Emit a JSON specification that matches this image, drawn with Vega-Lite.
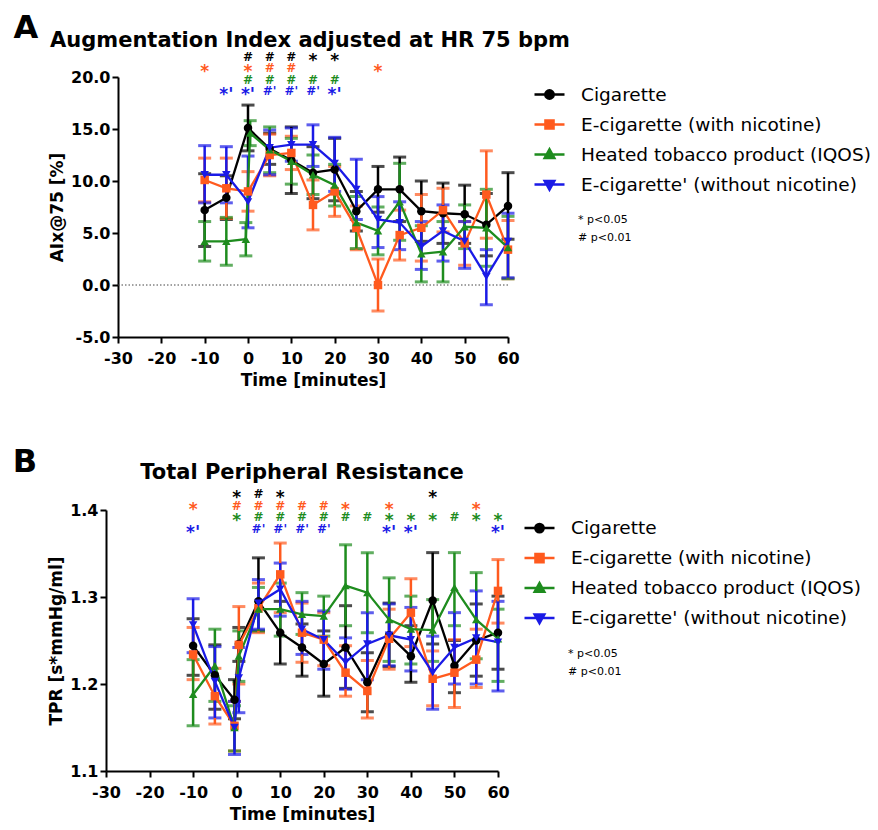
{
  "$schema": "https://vega.github.io/schema/vega-lite/v6.json",
  "background": "white",
  "padding": {"left": 12, "top": 12, "right": 4, "bottom": 2},
  "datasets": {
    "A": [
      {"series": "Cigarette", "time": -10, "mean": 7.2, "lo": 3.7, "hi": 10.7},
      {"series": "Cigarette", "time": -5, "mean": 8.4, "lo": 6.3, "hi": 10.5},
      {"series": "Cigarette", "time": 0, "mean": 15.1, "lo": 12.9, "hi": 17.3},
      {"series": "Cigarette", "time": 5, "mean": 13.1, "lo": 11.6, "hi": 14.6},
      {"series": "Cigarette", "time": 10, "mean": 12.0, "lo": 8.8, "hi": 15.2},
      {"series": "Cigarette", "time": 15, "mean": 10.8, "lo": 8.3, "hi": 13.3},
      {"series": "Cigarette", "time": 20, "mean": 11.1, "lo": 8.1, "hi": 14.1},
      {"series": "Cigarette", "time": 25, "mean": 7.1, "lo": 5.2, "hi": 9.0},
      {"series": "Cigarette", "time": 30, "mean": 9.2, "lo": 7.0, "hi": 11.4},
      {"series": "Cigarette", "time": 35, "mean": 9.2, "lo": 6.1, "hi": 12.3},
      {"series": "Cigarette", "time": 40, "mean": 7.1, "lo": 4.2, "hi": 10.0},
      {"series": "Cigarette", "time": 45, "mean": 6.9, "lo": 4.0, "hi": 9.8},
      {"series": "Cigarette", "time": 50, "mean": 6.8, "lo": 4.0, "hi": 9.6},
      {"series": "Cigarette", "time": 55, "mean": 5.8, "lo": 2.8, "hi": 8.8},
      {"series": "Cigarette", "time": 60, "mean": 7.6, "lo": 4.4, "hi": 10.8},
      {"series": "E-cigarette (with nicotine)", "time": -10, "mean": 10.1, "lo": 8.0, "hi": 12.2},
      {"series": "E-cigarette (with nicotine)", "time": -5, "mean": 9.3, "lo": 6.4, "hi": 12.2},
      {"series": "E-cigarette (with nicotine)", "time": 0, "mean": 9.0, "lo": 7.1, "hi": 10.9},
      {"series": "E-cigarette (with nicotine)", "time": 5, "mean": 12.5, "lo": 10.5, "hi": 14.5},
      {"series": "E-cigarette (with nicotine)", "time": 10, "mean": 12.7, "lo": 11.1, "hi": 14.3},
      {"series": "E-cigarette (with nicotine)", "time": 15, "mean": 7.7, "lo": 5.3, "hi": 10.1},
      {"series": "E-cigarette (with nicotine)", "time": 20, "mean": 9.0, "lo": 6.6, "hi": 11.4},
      {"series": "E-cigarette (with nicotine)", "time": 25, "mean": 5.5, "lo": 3.4, "hi": 7.6},
      {"series": "E-cigarette (with nicotine)", "time": 30, "mean": 0.0, "lo": -2.5, "hi": 2.5},
      {"series": "E-cigarette (with nicotine)", "time": 35, "mean": 4.8, "lo": 2.4, "hi": 7.2},
      {"series": "E-cigarette (with nicotine)", "time": 40, "mean": 5.5, "lo": 2.3, "hi": 8.7},
      {"series": "E-cigarette (with nicotine)", "time": 45, "mean": 7.2, "lo": 5.1, "hi": 9.3},
      {"series": "E-cigarette (with nicotine)", "time": 50, "mean": 4.0, "lo": 1.9, "hi": 6.1},
      {"series": "E-cigarette (with nicotine)", "time": 55, "mean": 8.7, "lo": 4.5, "hi": 12.9},
      {"series": "E-cigarette (with nicotine)", "time": 60, "mean": 3.4, "lo": 0.6, "hi": 6.2},
      {"series": "Heated tobacco product (IQOS)", "time": -10, "mean": 4.2, "lo": 2.3, "hi": 6.1},
      {"series": "Heated tobacco product (IQOS)", "time": -5, "mean": 4.2, "lo": 1.9, "hi": 6.5},
      {"series": "Heated tobacco product (IQOS)", "time": -0.5, "mean": 4.4, "lo": 2.8, "hi": 6.0},
      {"series": "Heated tobacco product (IQOS)", "time": 0.5, "mean": 14.6, "lo": 13.4, "hi": 15.8},
      {"series": "Heated tobacco product (IQOS)", "time": 5, "mean": 13.0, "lo": 10.8, "hi": 15.2},
      {"series": "Heated tobacco product (IQOS)", "time": 10, "mean": 11.9, "lo": 9.7, "hi": 14.1},
      {"series": "Heated tobacco product (IQOS)", "time": 15, "mean": 10.6, "lo": 8.7, "hi": 12.5},
      {"series": "Heated tobacco product (IQOS)", "time": 20, "mean": 9.6, "lo": 7.6, "hi": 11.6},
      {"series": "Heated tobacco product (IQOS)", "time": 25, "mean": 6.0, "lo": 3.5, "hi": 8.5},
      {"series": "Heated tobacco product (IQOS)", "time": 30, "mean": 5.2, "lo": 2.9, "hi": 7.5},
      {"series": "Heated tobacco product (IQOS)", "time": 35, "mean": 8.0, "lo": 4.3, "hi": 11.7},
      {"series": "Heated tobacco product (IQOS)", "time": 40, "mean": 3.0, "lo": 0.3, "hi": 5.7},
      {"series": "Heated tobacco product (IQOS)", "time": 45, "mean": 3.2, "lo": 0.3, "hi": 6.1},
      {"series": "Heated tobacco product (IQOS)", "time": 50, "mean": 5.6, "lo": 3.5, "hi": 7.7},
      {"series": "Heated tobacco product (IQOS)", "time": 55, "mean": 5.5, "lo": 1.8, "hi": 9.2},
      {"series": "Heated tobacco product (IQOS)", "time": 60, "mean": 3.6, "lo": 0.6, "hi": 6.6},
      {"series": "E-cigarette' (without nicotine)", "time": -10, "mean": 10.6, "lo": 7.9, "hi": 13.4},
      {"series": "E-cigarette' (without nicotine)", "time": -5, "mean": 10.6, "lo": 7.9, "hi": 13.3},
      {"series": "E-cigarette' (without nicotine)", "time": 0, "mean": 8.0, "lo": 5.5, "hi": 12.4},
      {"series": "E-cigarette' (without nicotine)", "time": 5, "mean": 13.2, "lo": 10.6, "hi": 14.9},
      {"series": "E-cigarette' (without nicotine)", "time": 10, "mean": 13.5, "lo": 11.9, "hi": 15.1},
      {"series": "E-cigarette' (without nicotine)", "time": 15, "mean": 13.5, "lo": 11.4, "hi": 15.4},
      {"series": "E-cigarette' (without nicotine)", "time": 20, "mean": 11.7, "lo": 9.0, "hi": 14.2},
      {"series": "E-cigarette' (without nicotine)", "time": 25, "mean": 9.2, "lo": 6.3, "hi": 12.1},
      {"series": "E-cigarette' (without nicotine)", "time": 30, "mean": 6.3, "lo": 3.6, "hi": 8.5},
      {"series": "E-cigarette' (without nicotine)", "time": 35, "mean": 6.0, "lo": 3.4, "hi": 8.0},
      {"series": "E-cigarette' (without nicotine)", "time": 40, "mean": 3.7, "lo": 1.5, "hi": 6.1},
      {"series": "E-cigarette' (without nicotine)", "time": 45, "mean": 5.2, "lo": 2.3, "hi": 7.7},
      {"series": "E-cigarette' (without nicotine)", "time": 50, "mean": 4.2, "lo": 1.6, "hi": 6.1},
      {"series": "E-cigarette' (without nicotine)", "time": 55, "mean": 0.8, "lo": -1.9, "hi": 3.4},
      {"series": "E-cigarette' (without nicotine)", "time": 60, "mean": 4.2, "lo": 0.7, "hi": 6.9}
    ],
    "B": [
      {"series": "Cigarette", "time": -10, "mean": 1.244, "lo": 1.210, "hi": 1.275},
      {"series": "Cigarette", "time": -5, "mean": 1.210, "lo": 1.171, "hi": 1.245},
      {"series": "Cigarette", "time": -0.5, "mean": 1.182, "lo": 1.160, "hi": 1.205},
      {"series": "Cigarette", "time": 0.5, "mean": 1.246, "lo": 1.226, "hi": 1.265},
      {"series": "Cigarette", "time": 5, "mean": 1.295, "lo": 1.261, "hi": 1.345},
      {"series": "Cigarette", "time": 10, "mean": 1.259, "lo": 1.223, "hi": 1.295},
      {"series": "Cigarette", "time": 15, "mean": 1.242, "lo": 1.209, "hi": 1.269},
      {"series": "Cigarette", "time": 20, "mean": 1.223, "lo": 1.186, "hi": 1.261},
      {"series": "Cigarette", "time": 25, "mean": 1.242, "lo": 1.195, "hi": 1.290},
      {"series": "Cigarette", "time": 30, "mean": 1.202, "lo": 1.168, "hi": 1.236},
      {"series": "Cigarette", "time": 35, "mean": 1.256, "lo": 1.220, "hi": 1.293},
      {"series": "Cigarette", "time": 40, "mean": 1.232, "lo": 1.202, "hi": 1.267},
      {"series": "Cigarette", "time": 45, "mean": 1.296, "lo": 1.246, "hi": 1.351},
      {"series": "Cigarette", "time": 50, "mean": 1.221, "lo": 1.190, "hi": 1.250},
      {"series": "Cigarette", "time": 55, "mean": 1.250, "lo": 1.209, "hi": 1.292},
      {"series": "Cigarette", "time": 60, "mean": 1.259, "lo": 1.217, "hi": 1.301},
      {"series": "E-cigarette (with nicotine)", "time": -10, "mean": 1.234, "lo": 1.205, "hi": 1.265},
      {"series": "E-cigarette (with nicotine)", "time": -5, "mean": 1.186, "lo": 1.154, "hi": 1.218},
      {"series": "E-cigarette (with nicotine)", "time": -0.5, "mean": 1.152, "lo": 1.123, "hi": 1.180},
      {"series": "E-cigarette (with nicotine)", "time": 0.5, "mean": 1.245, "lo": 1.200, "hi": 1.289},
      {"series": "E-cigarette (with nicotine)", "time": 5, "mean": 1.287, "lo": 1.259, "hi": 1.316},
      {"series": "E-cigarette (with nicotine)", "time": 10, "mean": 1.326, "lo": 1.282, "hi": 1.362},
      {"series": "E-cigarette (with nicotine)", "time": 15, "mean": 1.259, "lo": 1.225, "hi": 1.293},
      {"series": "E-cigarette (with nicotine)", "time": 20, "mean": 1.251, "lo": 1.221, "hi": 1.282},
      {"series": "E-cigarette (with nicotine)", "time": 25, "mean": 1.213, "lo": 1.186, "hi": 1.244},
      {"series": "E-cigarette (with nicotine)", "time": 30, "mean": 1.192, "lo": 1.161, "hi": 1.227},
      {"series": "E-cigarette (with nicotine)", "time": 35, "mean": 1.252, "lo": 1.217, "hi": 1.286},
      {"series": "E-cigarette (with nicotine)", "time": 40, "mean": 1.282, "lo": 1.243, "hi": 1.321},
      {"series": "E-cigarette (with nicotine)", "time": 45, "mean": 1.206, "lo": 1.175, "hi": 1.238},
      {"series": "E-cigarette (with nicotine)", "time": 50, "mean": 1.213, "lo": 1.173, "hi": 1.251},
      {"series": "E-cigarette (with nicotine)", "time": 55, "mean": 1.228, "lo": 1.196, "hi": 1.263},
      {"series": "E-cigarette (with nicotine)", "time": 60, "mean": 1.307, "lo": 1.270, "hi": 1.343},
      {"series": "Heated tobacco product (IQOS)", "time": -10, "mean": 1.188, "lo": 1.152, "hi": 1.228},
      {"series": "Heated tobacco product (IQOS)", "time": -5, "mean": 1.221, "lo": 1.180, "hi": 1.263},
      {"series": "Heated tobacco product (IQOS)", "time": -0.5, "mean": 1.150, "lo": 1.123, "hi": 1.175},
      {"series": "Heated tobacco product (IQOS)", "time": 0.5, "mean": 1.232, "lo": 1.203, "hi": 1.261},
      {"series": "Heated tobacco product (IQOS)", "time": 5, "mean": 1.286, "lo": 1.261, "hi": 1.311},
      {"series": "Heated tobacco product (IQOS)", "time": 10, "mean": 1.286, "lo": 1.255, "hi": 1.316},
      {"series": "Heated tobacco product (IQOS)", "time": 15, "mean": 1.280, "lo": 1.257, "hi": 1.305},
      {"series": "Heated tobacco product (IQOS)", "time": 20, "mean": 1.278, "lo": 1.255, "hi": 1.301},
      {"series": "Heated tobacco product (IQOS)", "time": 25, "mean": 1.313, "lo": 1.267, "hi": 1.360},
      {"series": "Heated tobacco product (IQOS)", "time": 30, "mean": 1.305, "lo": 1.259, "hi": 1.351},
      {"series": "Heated tobacco product (IQOS)", "time": 35, "mean": 1.274, "lo": 1.226, "hi": 1.322},
      {"series": "Heated tobacco product (IQOS)", "time": 40, "mean": 1.263, "lo": 1.223, "hi": 1.301},
      {"series": "Heated tobacco product (IQOS)", "time": 45, "mean": 1.262, "lo": 1.226, "hi": 1.297},
      {"series": "Heated tobacco product (IQOS)", "time": 50, "mean": 1.311, "lo": 1.267, "hi": 1.351},
      {"series": "Heated tobacco product (IQOS)", "time": 55, "mean": 1.274, "lo": 1.229, "hi": 1.328},
      {"series": "Heated tobacco product (IQOS)", "time": 60, "mean": 1.252, "lo": 1.203, "hi": 1.286},
      {"series": "E-cigarette' (without nicotine)", "time": -10, "mean": 1.268, "lo": 1.236, "hi": 1.298},
      {"series": "E-cigarette' (without nicotine)", "time": -5, "mean": 1.203, "lo": 1.161, "hi": 1.243},
      {"series": "E-cigarette' (without nicotine)", "time": -0.5, "mean": 1.150, "lo": 1.119, "hi": 1.180},
      {"series": "E-cigarette' (without nicotine)", "time": 0.5, "mean": 1.207, "lo": 1.167, "hi": 1.242},
      {"series": "E-cigarette' (without nicotine)", "time": 5, "mean": 1.293, "lo": 1.263, "hi": 1.320},
      {"series": "E-cigarette' (without nicotine)", "time": 10, "mean": 1.309, "lo": 1.278, "hi": 1.339},
      {"series": "E-cigarette' (without nicotine)", "time": 15, "mean": 1.263, "lo": 1.234, "hi": 1.295},
      {"series": "E-cigarette' (without nicotine)", "time": 20, "mean": 1.251, "lo": 1.217, "hi": 1.284},
      {"series": "E-cigarette' (without nicotine)", "time": 25, "mean": 1.225, "lo": 1.194, "hi": 1.253},
      {"series": "E-cigarette' (without nicotine)", "time": 30, "mean": 1.246, "lo": 1.205, "hi": 1.282},
      {"series": "E-cigarette' (without nicotine)", "time": 35, "mean": 1.256, "lo": 1.221, "hi": 1.292},
      {"series": "E-cigarette' (without nicotine)", "time": 40, "mean": 1.251, "lo": 1.215, "hi": 1.288},
      {"series": "E-cigarette' (without nicotine)", "time": 45, "mean": 1.213, "lo": 1.171, "hi": 1.255},
      {"series": "E-cigarette' (without nicotine)", "time": 50, "mean": 1.242, "lo": 1.200, "hi": 1.282},
      {"series": "E-cigarette' (without nicotine)", "time": 55, "mean": 1.253, "lo": 1.200, "hi": 1.307},
      {"series": "E-cigarette' (without nicotine)", "time": 60, "mean": 1.248, "lo": 1.192, "hi": 1.295}
    ],
    "sA": [
      {"series": "Cigarette", "time": 0, "sym": "#"},
      {"series": "Cigarette", "time": 5, "sym": "#"},
      {"series": "Cigarette", "time": 10, "sym": "#"},
      {"series": "Cigarette", "time": 15, "sym": "*"},
      {"series": "Cigarette", "time": 20, "sym": "*"},
      {"series": "E-cigarette (with nicotine)", "time": -10, "sym": "*"},
      {"series": "E-cigarette (with nicotine)", "time": 0, "sym": "*"},
      {"series": "E-cigarette (with nicotine)", "time": 5, "sym": "#"},
      {"series": "E-cigarette (with nicotine)", "time": 10, "sym": "#"},
      {"series": "E-cigarette (with nicotine)", "time": 30, "sym": "*"},
      {"series": "Heated tobacco product (IQOS)", "time": 0, "sym": "#"},
      {"series": "Heated tobacco product (IQOS)", "time": 5, "sym": "#"},
      {"series": "Heated tobacco product (IQOS)", "time": 10, "sym": "#"},
      {"series": "Heated tobacco product (IQOS)", "time": 15, "sym": "#"},
      {"series": "Heated tobacco product (IQOS)", "time": 20, "sym": "#"},
      {"series": "E-cigarette' (without nicotine)", "time": -5, "sym": "*'"},
      {"series": "E-cigarette' (without nicotine)", "time": 0, "sym": "*'"},
      {"series": "E-cigarette' (without nicotine)", "time": 5, "sym": "#'"},
      {"series": "E-cigarette' (without nicotine)", "time": 10, "sym": "#'"},
      {"series": "E-cigarette' (without nicotine)", "time": 15, "sym": "#'"},
      {"series": "E-cigarette' (without nicotine)", "time": 20, "sym": "*'"}
    ],
    "sB": [
      {"series": "Cigarette", "time": 0, "sym": "*"},
      {"series": "Cigarette", "time": 5, "sym": "#"},
      {"series": "Cigarette", "time": 10, "sym": "*"},
      {"series": "Cigarette", "time": 45, "sym": "*"},
      {"series": "E-cigarette (with nicotine)", "time": -10, "sym": "*"},
      {"series": "E-cigarette (with nicotine)", "time": 0, "sym": "#"},
      {"series": "E-cigarette (with nicotine)", "time": 5, "sym": "#"},
      {"series": "E-cigarette (with nicotine)", "time": 10, "sym": "#"},
      {"series": "E-cigarette (with nicotine)", "time": 15, "sym": "#"},
      {"series": "E-cigarette (with nicotine)", "time": 20, "sym": "#"},
      {"series": "E-cigarette (with nicotine)", "time": 25, "sym": "*"},
      {"series": "E-cigarette (with nicotine)", "time": 35, "sym": "*"},
      {"series": "E-cigarette (with nicotine)", "time": 55, "sym": "*"},
      {"series": "Heated tobacco product (IQOS)", "time": 0, "sym": "*"},
      {"series": "Heated tobacco product (IQOS)", "time": 5, "sym": "#"},
      {"series": "Heated tobacco product (IQOS)", "time": 10, "sym": "#"},
      {"series": "Heated tobacco product (IQOS)", "time": 15, "sym": "#"},
      {"series": "Heated tobacco product (IQOS)", "time": 20, "sym": "#"},
      {"series": "Heated tobacco product (IQOS)", "time": 25, "sym": "#"},
      {"series": "Heated tobacco product (IQOS)", "time": 30, "sym": "#"},
      {"series": "Heated tobacco product (IQOS)", "time": 35, "sym": "*"},
      {"series": "Heated tobacco product (IQOS)", "time": 40, "sym": "*"},
      {"series": "Heated tobacco product (IQOS)", "time": 45, "sym": "*"},
      {"series": "Heated tobacco product (IQOS)", "time": 50, "sym": "#"},
      {"series": "Heated tobacco product (IQOS)", "time": 55, "sym": "*"},
      {"series": "Heated tobacco product (IQOS)", "time": 60, "sym": "*"},
      {"series": "E-cigarette' (without nicotine)", "time": -10, "sym": "*'"},
      {"series": "E-cigarette' (without nicotine)", "time": 5, "sym": "#'"},
      {"series": "E-cigarette' (without nicotine)", "time": 10, "sym": "#'"},
      {"series": "E-cigarette' (without nicotine)", "time": 15, "sym": "#'"},
      {"series": "E-cigarette' (without nicotine)", "time": 20, "sym": "#'"},
      {"series": "E-cigarette' (without nicotine)", "time": 35, "sym": "*'"},
      {"series": "E-cigarette' (without nicotine)", "time": 40, "sym": "*'"},
      {"series": "E-cigarette' (without nicotine)", "time": 60, "sym": "*'"}
    ]
  },
  "vconcat": [
    {
      "title": {"text": "A", "anchor": "start", "font": "DejaVu Sans", "fontSize": 32, "fontWeight": "bold", "color": "#000", "dx": -35, "offset": -15},
      "vconcat": [
        {
          "width": 402,
          "height": 260,
          "title": {"text": "Augmentation Index adjusted at HR 75 bpm", "anchor": "middle", "frame": "group", "font": "DejaVu Sans", "fontSize": 21, "fontWeight": "bold", "color": "#000", "offset": 0, "dx": 3},
          "encoding": {
            "color": {
              "field": "series", "type": "nominal",
              "scale": {"domain": ["Cigarette", "E-cigarette (with nicotine)", "Heated tobacco product (IQOS)", "E-cigarette' (without nicotine)"], "range": ["#000000", "#FF5A1E", "#1E8C1E", "#1A1AE6"]},
              "legend": {
                "orient": "none", "legendX": 427, "legendY": 1,
                "title": ["* p<0.05", "# p<0.01"],
                "titleOrient": "bottom", "titleAnchor": "start", "titleFont": "DejaVu Sans", "titleFontSize": 11, "titleFontWeight": "normal", "titleColor": "#000", "titleLineHeight": 18, "titlePadding": 19, "titleLimit": 300,
                "labelFont": "DejaVu Sans", "labelFontSize": 18.5, "labelColor": "#000", "labelOffset": 15, "labelLimit": 500,
                "symbolSize": 900, "rowPadding": 4, "padding": 0,
                "encode": {
                  "symbols": {"update": {
                    "shape": {"signal": "['M-1,0H1M0.28,0A0.28,0.28,0,1,1,-0.28,0A0.28,0.28,0,1,1,0.28,0Z','M-1,0H1M-0.27,-0.27H0.27V0.27H-0.27Z','M-1,0H1M0,-0.34L0.32,0.24H-0.32Z','M-1,0H1M0,0.34L0.32,-0.24H-0.32Z'][datum.index]"},
                    "stroke": {"signal": "['#000000','#FF5A1E','#1E8C1E','#1A1AE6'][datum.index]"},
                    "fill": {"signal": "['#000000','#FF5A1E','#1E8C1E','#1A1AE6'][datum.index]"},
                    "strokeWidth": {"value": 2.5},
                    "opacity": {"value": 1}
                  }},
                  "title": {"update": {"dx": {"value": 45}}}
                }
              }
            }
          },
          "layer": [
            {
              "data": {"name": "A"},
              "layer": [
                {
                  "data": {"values": [{"level": 0, "start": -30, "end": 60}]},
                  "mark": {"type": "rule", "strokeDash": [1.5, 2], "strokeWidth": 1},
                  "encoding": {"y": {"field": "level", "type": "quantitative"}, "x": {"field": "start", "type": "quantitative"}, "x2": {"field": "end"}, "color": {"value": "#444444"}}
                },
                {
                  "mark": {"type": "errorbar", "ticks": {"size": 13, "thickness": 3}, "thickness": 2.5},
                  "encoding": {
                    "x": {"field": "time", "type": "quantitative", "scale": {"domain": [-30, 60], "nice": false, "range": [12, 402]}, "axis": {"title": "Time [minutes]", "values": [-30, -20, -10, 0, 10, 20, 30, 40, 50, 60]}},
                    "y": {"field": "lo", "type": "quantitative", "scale": {"domain": [-5, 20], "nice": false, "zero": false}, "axis": {"title": "AIx@75 [%]", "values": [-5, -2.5, 0, 2.5, 5, 7.5, 10, 12.5, 15, 17.5, 20], "format": ".1f", "offset": -12}},
                    "y2": {"field": "hi"}
                  }
                },
                {
                  "mark": {"type": "line", "strokeWidth": 2.3},
                  "encoding": {
                    "x": {"field": "time", "type": "quantitative"},
                    "y": {"field": "mean", "type": "quantitative"}
                  }
                },
                {
                  "mark": {"type": "point", "filled": true, "opacity": 1, "size": 72},
                  "encoding": {
                    "x": {"field": "time", "type": "quantitative"},
                    "y": {"field": "mean", "type": "quantitative"},
                    "shape": {"condition": [
                      {"test": "datum.series === 'Cigarette'", "value": "circle"},
                      {"test": "datum.series === 'E-cigarette (with nicotine)'", "value": "square"},
                      {"test": "datum.series === 'Heated tobacco product (IQOS)'", "value": "triangle-up"}
                    ], "value": "triangle-down"}
                  }
                }
              ]
            },
            {
              "data": {"name": "sA"},
              "encoding": {
                "x": {"field": "time", "type": "quantitative"},
                "y": {"field": "series", "type": "nominal", "scale": {"type": "point", "domain": ["Cigarette", "E-cigarette (with nicotine)", "Heated tobacco product (IQOS)", "E-cigarette' (without nicotine)"], "range": [-20, 14], "padding": 0}, "axis": null},
                "text": {"field": "sym"}
              },
              "layer": [
                {"transform": [{"filter": "indexof(datum.sym, '#') === 0"}], "mark": {"type": "text", "font": "DejaVu Sans", "fontWeight": "bold", "fontSize": 12, "baseline": "middle"}},
                {"transform": [{"filter": "indexof(datum.sym, '*') === 0"}], "mark": {"type": "text", "font": "DejaVu Sans", "fontWeight": "bold", "fontSize": 17, "baseline": "middle", "dy": 4}}
              ]
            }
          ],
          "resolve": {"scale": {"y": "independent"}}
        }
      ]
    },
    {
      "title": {"text": "B", "anchor": "start", "font": "DejaVu Sans", "fontSize": 32, "fontWeight": "bold", "color": "#000", "dx": -35, "offset": -17},
      "vconcat": [
        {
          "width": 392,
          "height": 261,
          "title": {"text": "Total Peripheral Resistance", "anchor": "middle", "frame": "group", "font": "DejaVu Sans", "fontSize": 21, "fontWeight": "bold", "color": "#000", "offset": 5},
          "encoding": {
            "color": {
              "field": "series", "type": "nominal",
              "scale": {"domain": ["Cigarette", "E-cigarette (with nicotine)", "Heated tobacco product (IQOS)", "E-cigarette' (without nicotine)"], "range": ["#000000", "#FF5A1E", "#1E8C1E", "#1A1AE6"]},
              "legend": {
                "orient": "none", "legendX": 417, "legendY": 1.6,
                "title": ["* p<0.05", "# p<0.01"],
                "titleOrient": "bottom", "titleAnchor": "start", "titleFont": "DejaVu Sans", "titleFontSize": 11, "titleFontWeight": "normal", "titleColor": "#000", "titleLineHeight": 18, "titlePadding": 19, "titleLimit": 300,
                "labelFont": "DejaVu Sans", "labelFontSize": 18.5, "labelColor": "#000", "labelOffset": 15, "labelLimit": 500,
                "symbolSize": 900, "rowPadding": 4, "padding": 0,
                "encode": {
                  "symbols": {"update": {
                    "shape": {"signal": "['M-1,0H1M0.28,0A0.28,0.28,0,1,1,-0.28,0A0.28,0.28,0,1,1,0.28,0Z','M-1,0H1M-0.27,-0.27H0.27V0.27H-0.27Z','M-1,0H1M0,-0.34L0.32,0.24H-0.32Z','M-1,0H1M0,0.34L0.32,-0.24H-0.32Z'][datum.index]"},
                    "stroke": {"signal": "['#000000','#FF5A1E','#1E8C1E','#1A1AE6'][datum.index]"},
                    "fill": {"signal": "['#000000','#FF5A1E','#1E8C1E','#1A1AE6'][datum.index]"},
                    "strokeWidth": {"value": 2.5},
                    "opacity": {"value": 1}
                  }},
                  "title": {"update": {"dx": {"value": 45}}}
                }
              }
            }
          },
          "layer": [
            {
              "data": {"name": "B"},
              "layer": [
                {
                  "mark": {"type": "errorbar", "ticks": {"size": 13, "thickness": 3}, "thickness": 2.5},
                  "encoding": {
                    "x": {"field": "time", "type": "quantitative", "scale": {"domain": [-30, 60], "nice": false}, "axis": {"title": "Time [minutes]", "values": [-30, -20, -10, 0, 10, 20, 30, 40, 50, 60]}},
                    "y": {"field": "lo", "type": "quantitative", "scale": {"domain": [1.1, 1.4], "nice": false, "zero": false}, "axis": {"title": "TPR [s*mmHg/ml]", "values": [1.1, 1.2, 1.3, 1.4], "format": ".1f"}},
                    "y2": {"field": "hi"}
                  }
                },
                {
                  "mark": {"type": "line", "strokeWidth": 2.3},
                  "encoding": {
                    "x": {"field": "time", "type": "quantitative"},
                    "y": {"field": "mean", "type": "quantitative"}
                  }
                },
                {
                  "mark": {"type": "point", "filled": true, "opacity": 1, "size": 72},
                  "encoding": {
                    "x": {"field": "time", "type": "quantitative"},
                    "y": {"field": "mean", "type": "quantitative"},
                    "shape": {"condition": [
                      {"test": "datum.series === 'Cigarette'", "value": "circle"},
                      {"test": "datum.series === 'E-cigarette (with nicotine)'", "value": "square"},
                      {"test": "datum.series === 'Heated tobacco product (IQOS)'", "value": "triangle-up"}
                    ], "value": "triangle-down"}
                  }
                }
              ]
            },
            {
              "data": {"name": "sB"},
              "encoding": {
                "x": {"field": "time", "type": "quantitative"},
                "y": {"field": "series", "type": "nominal", "scale": {"type": "point", "domain": ["Cigarette", "E-cigarette (with nicotine)", "Heated tobacco product (IQOS)", "E-cigarette' (without nicotine)"], "range": [-16, 19], "padding": 0}, "axis": null},
                "text": {"field": "sym"}
              },
              "layer": [
                {"transform": [{"filter": "indexof(datum.sym, '#') === 0"}], "mark": {"type": "text", "font": "DejaVu Sans", "fontWeight": "bold", "fontSize": 12, "baseline": "middle"}},
                {"transform": [{"filter": "indexof(datum.sym, '*') === 0"}], "mark": {"type": "text", "font": "DejaVu Sans", "fontWeight": "bold", "fontSize": 17, "baseline": "middle", "dy": 4}}
              ]
            }
          ],
          "resolve": {"scale": {"y": "independent"}}
        }
      ]
    }
  ],
  "spacing": 58,
  "resolve": {"scale": {"color": "independent"}},
  "config": {
    "view": {"stroke": null},
    "axis": {"grid": false, "domainColor": "#000", "domainWidth": 2, "tickColor": "#000", "tickWidth": 2, "tickSize": 6, "labelFont": "DejaVu Sans", "labelFontWeight": "bold", "labelFontSize": 16, "labelColor": "#000", "titleFont": "DejaVu Sans", "titleFontWeight": "bold", "titleFontSize": 17, "titleColor": "#000", "labelFlush": false, "labelOverlap": false, "labelExpr": "replace(datum.label, '\u2212', '-')"},
    "axisX": {"labelPadding": 7, "titlePadding": 6},
    "axisY": {"labelPadding": 2, "titlePadding": 4}
  }
}
